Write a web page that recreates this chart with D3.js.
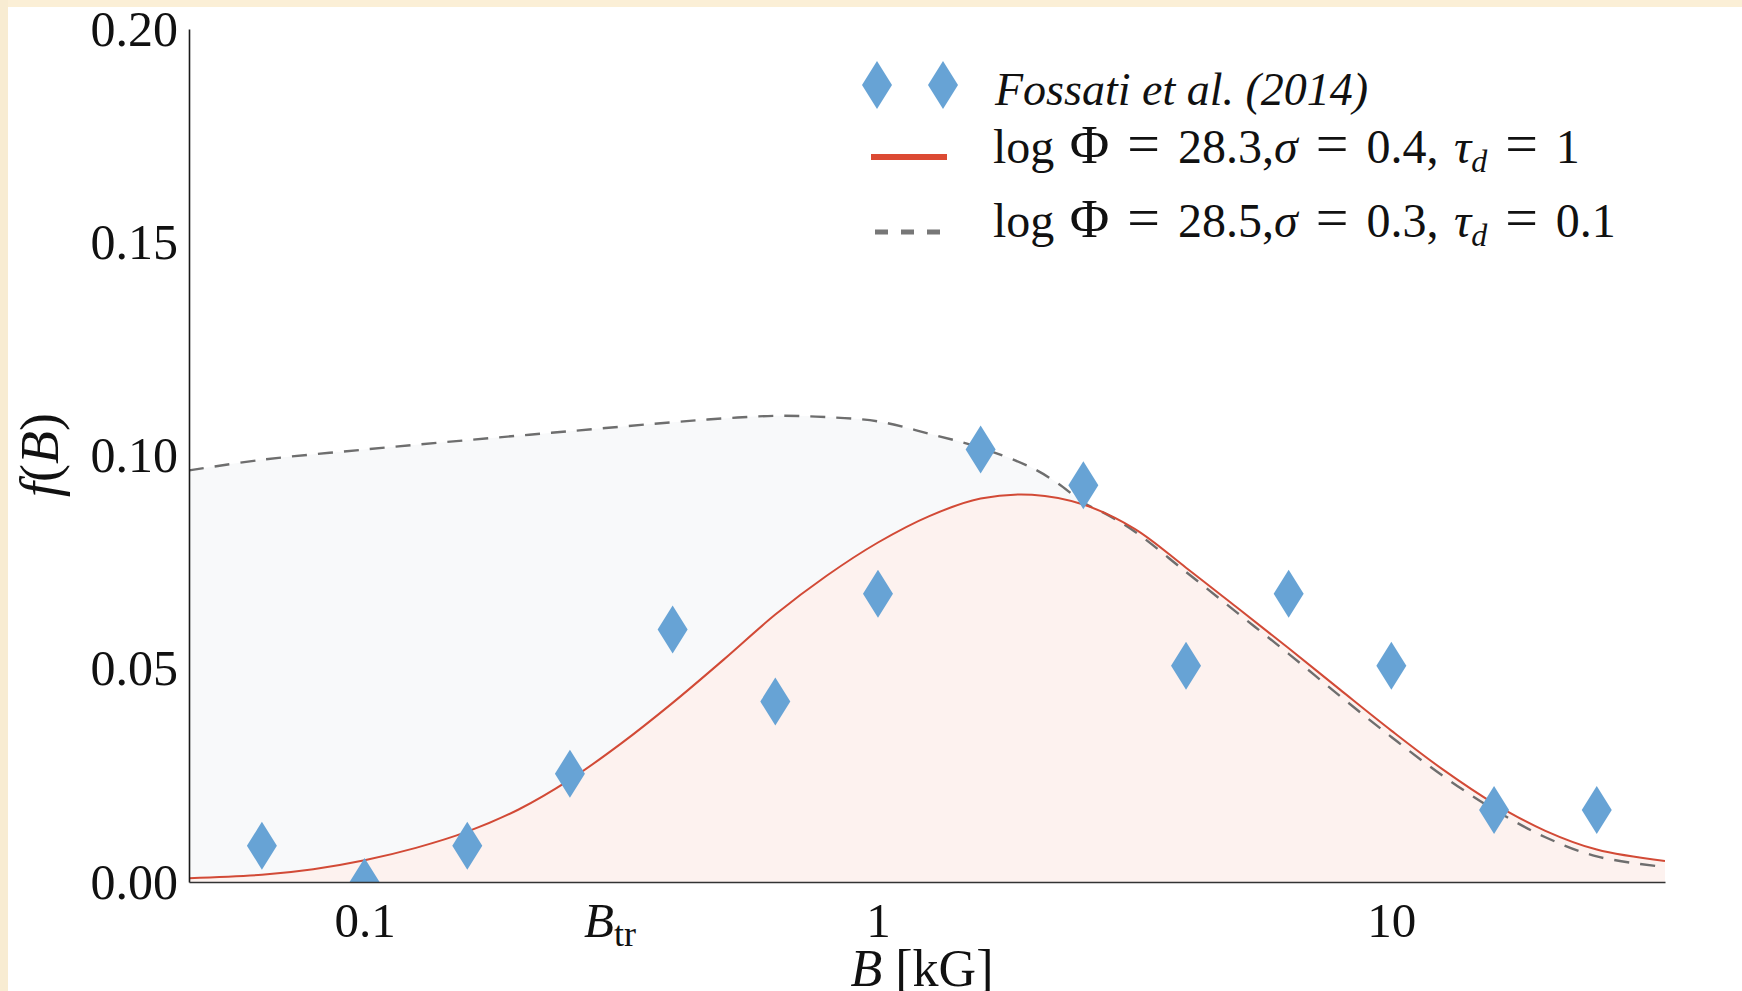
<!DOCTYPE html>
<html>
<head>
<meta charset="utf-8">
<script src="https://cdn.jsdelivr.net/npm/d3@7"></script>
<style>
  html, body { margin: 0; padding: 0; background: #ffffff; }
  svg { display: block; }
  text { font-family: "Liberation Serif", "DejaVu Serif", serif; fill: #111; }
</style>
</head>
<body>
<svg id="chart" width="1742" height="991"></svg>
<script>
// ---------- data ----------
// Observed histogram (Fossati et al. 2014): log10 B [kG] and f(B)
const obsLogB = [-1.2, -1.0, -0.8, -0.6, -0.4, -0.2, 0.0, 0.2, 0.4, 0.6, 0.8, 1.0, 1.2, 1.4];
const obsF    = [0.0085, 0.0, 0.0085, 0.0254, 0.0592, 0.0423, 0.0676, 0.1014, 0.0930, 0.0507, 0.0676, 0.0507, 0.0169, 0.0169];

// Model 1: log Phi = 28.3, sigma = 0.4, tau_d = 1 (red solid)
const redLogB = [-1.342, -1.2, -1.1, -1.0, -0.9, -0.8, -0.7, -0.6, -0.5, -0.4, -0.3, -0.2, -0.1, 0.0, 0.1, 0.2, 0.3, 0.4, 0.5, 0.6, 0.7, 0.8, 0.9, 1.0, 1.1, 1.2, 1.3, 1.4, 1.533];
const redF    = [0.0009, 0.0017, 0.0030, 0.0051, 0.0080, 0.0118, 0.0170, 0.0240, 0.0325, 0.0420, 0.0522, 0.0627, 0.0718, 0.0796, 0.0858, 0.0899, 0.0908, 0.0885, 0.0828, 0.0737, 0.0643, 0.0548, 0.0451, 0.0355, 0.0264, 0.0184, 0.0120, 0.0076, 0.0049];

// Model 2: log Phi = 28.5, sigma = 0.3, tau_d = 0.1 (grey dashed)
const greyLogB = [-1.342, -1.2, -1.0, -0.8, -0.6, -0.4, -0.3, -0.2, -0.1, 0.0, 0.1, 0.2, 0.3, 0.35, 0.4, 0.45, 0.5, 0.6, 0.7, 0.8, 0.9, 1.0, 1.1, 1.2, 1.3, 1.4, 1.533];
const greyF    = [0.0965, 0.0990, 0.1014, 0.1036, 0.1057, 0.1078, 0.1087, 0.1093, 0.1090, 0.1080, 0.1051, 0.1018, 0.0971, 0.0935, 0.0890, 0.0859, 0.0822, 0.0727, 0.0631, 0.0535, 0.0436, 0.0340, 0.0249, 0.0170, 0.0105, 0.0060, 0.0035];

// Axes
const xDomainLog = [-1.342, 1.533];
const xTicks = [0.1, 0.3, 1, 10];
const xTickLabels = ["0.1", "Btr", "1", "10"];
const yDomain = [0, 0.2];
const yTicks = [0.00, 0.05, 0.10, 0.15, 0.20];

// Legend labels
const legendObs = "Fossati et al. (2014)";
const legendRed = ["28.3", "0.4", "1"];
const legendGrey = ["28.5", "0.3", "0.1"];

// ---------- layout ----------
const W = 1742, H = 991;
const L = 189, R = 1665, T = 29, B = 882;
const svg = d3.select("#chart");

// page background: cream strips top/left
svg.append("rect").attr("x", 0).attr("y", 0).attr("width", W).attr("height", H).attr("fill", "#ffffff");
svg.append("rect").attr("x", 0).attr("y", 0).attr("width", W).attr("height", 7).attr("fill", "#fbefd6");
svg.append("rect").attr("x", 0).attr("y", 0).attr("width", 8).attr("height", H).attr("fill", "#f8ecd2");

const x = d3.scaleLog().domain(xDomainLog.map(v => Math.pow(10, v))).range([L, R]);
const y = d3.scaleLinear().domain(yDomain).range([B, T]);

svg.append("defs").append("clipPath").attr("id", "plotclip")
  .append("rect").attr("x", L).attr("y", T).attr("width", R - L).attr("height", B - T);

const plot = svg.append("g").attr("clip-path", "url(#plotclip)");

const red = redLogB.map((v, i) => ({ b: Math.pow(10, v), f: redF[i] }));
const grey = greyLogB.map((v, i) => ({ b: Math.pow(10, v), f: greyF[i] }));
const obs = obsLogB.map((v, i) => ({ b: Math.pow(10, v), f: obsF[i] }));

const curve = d3.curveCatmullRom.alpha(0.5);
const area = d3.area().x(d => x(d.b)).y0(y(0)).y1(d => y(d.f)).curve(curve);
const line = d3.line().x(d => x(d.b)).y(d => y(d.f)).curve(curve);

plot.append("path").datum(grey).attr("d", area).attr("fill", "#f8f9fa");
plot.append("path").datum(red).attr("d", area).attr("fill", "#fdf2ef");

plot.append("path").datum(grey).attr("d", line)
  .attr("fill", "none").attr("stroke", "#6e6e6e").attr("stroke-width", 2.4)
  .attr("stroke-dasharray", "15,11");
plot.append("path").datum(red).attr("d", line)
  .attr("fill", "none").attr("stroke", "#d24a36").attr("stroke-width", 2);

const diamond = "M0,-24L15,0L0,24L-15,0Z";
plot.selectAll("path.obs").data(obs).enter().append("path")
  .attr("class", "obs")
  .attr("d", diamond)
  .attr("transform", d => `translate(${x(d.b)},${y(d.f)})`)
  .attr("fill", "#67a3d5");

// ---------- axes ----------
const yAxis = d3.axisLeft(y).tickValues(yTicks).tickFormat(d3.format(".2f")).tickSize(0).tickPadding(11);
const gy = svg.append("g").attr("transform", `translate(${L},0)`).call(yAxis);
gy.select(".domain").attr("stroke", "#1a1a1a").attr("stroke-width", 1.6);
gy.selectAll(".tick text").attr("font-size", 50).attr("font-family", "Liberation Serif").attr("fill", "#111");

const xAxis = d3.axisBottom(x).tickValues(xTicks).tickFormat((d, i) => xTickLabels[i]).tickSize(0);
const gx = svg.append("g").attr("transform", `translate(0,${B})`).call(xAxis);
gx.select(".domain").attr("stroke", "#333").attr("stroke-width", 1.6);
gx.selectAll(".tick text")
  .attr("font-size", 49).attr("font-family", "Liberation Serif").attr("fill", "#111")
  .attr("y", 55).attr("dy", null)
  .each(function(d, i) {
    if (xTickLabels[i] === "Btr") {
      const t = d3.select(this).text(null);
      t.append("tspan").attr("font-style", "italic").text("B");
      t.append("tspan").attr("font-size", 36).attr("dy", 9).text("tr");
    }
  });

// axis labels
const xl = svg.append("text").attr("x", 922).attr("y", 986).attr("text-anchor", "middle").attr("font-size", 52);
xl.append("tspan").attr("font-style", "italic").text("B");
xl.append("tspan").text(" [kG]");

const yl = svg.append("text").attr("transform", "translate(58,455) rotate(-90)").attr("text-anchor", "middle").attr("font-size", 54);
yl.append("tspan").attr("font-style", "italic").text("f");
yl.append("tspan").text("(");
yl.append("tspan").attr("font-style", "italic").text("B");
yl.append("tspan").text(")");

// ---------- legend ----------
const lg = svg.append("g");
[877, 943].forEach(cx => {
  lg.append("path").attr("d", diamond).attr("transform", `translate(${cx},85)`).attr("fill", "#67a3d5");
});
lg.append("text").attr("x", 995).attr("y", 105).attr("font-size", 46).attr("font-style", "italic").text(legendObs);

lg.append("line").attr("x1", 871).attr("x2", 947).attr("y1", 157).attr("y2", 157)
  .attr("stroke", "#dc4a33").attr("stroke-width", 6);
lg.append("line").attr("x1", 875).attr("x2", 941).attr("y1", 232).attr("y2", 232)
  .attr("stroke", "#777").attr("stroke-width", 5).attr("stroke-dasharray", "13,13");

function mathRow(yb, vals) {
  const t = lg.append("text").attr("x", 993).attr("y", yb).attr("font-size", 48)
    .attr("xml:space", "preserve").style("white-space", "pre").attr("word-spacing", 3.5);
  const eq = () => t.append("tspan").attr("font-size", 58).text(" = ");
  t.append("tspan").text("log ");
  t.append("tspan").attr("font-size", 54).text("Φ");
  eq();
  t.append("tspan").text(vals[0] + ",");
  t.append("tspan").attr("font-style", "italic").text("σ");
  eq();
  t.append("tspan").text(vals[1] + ", ");
  t.append("tspan").attr("font-style", "italic").text("τ");
  t.append("tspan").attr("font-style", "italic").attr("font-size", 32).attr("dy", 9).text("d");
  t.append("tspan").attr("dy", -9).attr("font-size", 58).text(" = ");
  t.append("tspan").text(vals[2]);
}
mathRow(163, legendRed);
mathRow(237, legendGrey);
</script>
</body>
</html>
